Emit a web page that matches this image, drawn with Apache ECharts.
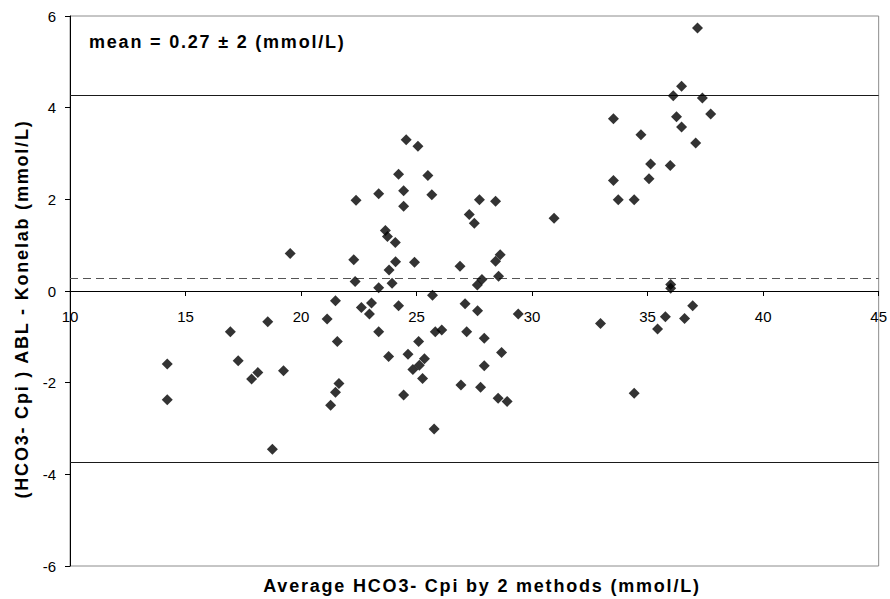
<!DOCTYPE html>
<html>
<head>
<meta charset="utf-8">
<title>Bland-Altman HCO3- Cpi</title>
<script src="https://cdn.jsdelivr.net/npm/echarts@6/dist/echarts.min.js"></script>
<style>
  html, body { margin: 0; padding: 0; background: #fff; }
  #chart { width: 890px; height: 599px; }
  /* bold captions are tracked out a little */
  #chart text[style*="bold"] { letter-spacing: 1.8px; }
</style>
</head>
<body>
<div id="chart"></div>
<script>
// Average of the two methods (mmol/L)
const avgValues = [
  14.21, 14.21, 16.94, 17.28, 17.86, 18.13, 18.56, 19.24, 18.76, 19.53,
  21.13, 21.49, 21.57, 21.64, 21.49, 21.28, 22.34, 22.28, 22.38, 22.61,
  22.96, 23.05, 23.36, 23.36, 23.36, 23.65, 23.74, 24.08, 24.09, 23.81,
  23.94, 24.22, 23.79, 24.22, 24.44, 24.44, 24.55, 25.06, 24.91, 25.49,
  25.66, 25.69, 24.63, 25.09, 24.84, 25.12, 25.34, 25.26, 24.44, 25.76,
  25.81, 26.09, 26.88, 27.10, 27.64, 29.40, 27.17, 27.93, 28.68, 27.93,
  26.92, 27.77, 28.53, 28.92, 27.72, 28.42, 27.28, 27.50, 28.62, 28.42,
  28.55, 27.83, 27.63, 30.95, 33.52, 34.71, 35.13, 35.98, 35.06, 33.52,
  33.73, 34.42, 36.00, 36.00, 32.96, 34.42, 35.43, 35.77, 36.60, 36.95,
  37.16, 36.47, 36.11, 37.37, 37.73, 36.25, 36.47, 37.08
];

// Difference ABL - Konelab (mmol/L)
const diffValues = [
  -1.59, -2.37, -0.89, -1.52, -1.92, -1.78, -0.67, -1.74, -3.45, 0.82,
  -0.61, -0.21, -1.10, -2.02, -2.21, -2.49, 0.21, 0.68, 1.98, -0.36,
  -0.50, -0.26, -0.89, 0.07, 2.12, 1.32, 1.19, 1.06, 0.64, 0.46,
  0.17, -0.32, -1.43, 2.55, 2.19, 1.85, 3.30, 3.16, 0.63, 2.52,
  2.10, -0.09, -1.38, -1.10, -1.71, -1.62, -1.48, -1.91, -2.27, -3.01,
  -0.89, -0.85, 0.54, -0.28, -0.43, -0.50, -0.89, -1.03, -1.34, -1.63,
  -2.05, -2.10, -2.34, -2.41, 1.99, 1.96, 1.67, 1.48, 0.79, 0.65,
  0.32, 0.25, 0.13, 1.59, 3.76, 3.41, 2.77, 2.74, 2.45, 2.41,
  1.99, 1.99, 0.14, 0.06, -0.71, -2.23, -0.83, -0.56, -0.60, -0.32,
  5.74, 4.47, 4.26, 4.21, 3.86, 3.80, 3.58, 3.23
];

// Mean difference and the mean ± 2 SD limits
const meanDiff = 0.27;
const upperLimit = 4.27;
const lowerLimit = -3.73;

// Axis ranges and tick steps
const xRange = [10, 45];
const xStep = 5;
const yRange = [-6, 6];
const yStep = 2;

const meanText = 'mean = 0.27 \u00b1 2 (mmol/L)';
const xTitle = 'Average HCO3- Cpi by 2 methods (mmol/L)';
const yTitle = '(HCO3- Cpi ) ABL - Konelab (mmol/L)';

const points = avgValues.map((a, i) => [a, diffValues[i]]);
const FONT = 'Liberation Sans, Arial, sans-serif';
const TITLE_FONT = 'bold 18px Liberation Sans, Arial, sans-serif';

const GRID = { left: 70, right: 8, top: 16, bottom: 33 };
const plotHeight = 599 - GRID.top - GRID.bottom;

const chart = echarts.init(document.getElementById('chart'), null, { renderer: 'svg' });

chart.setOption({
  animation: false,
  backgroundColor: '#ffffff',
  grid: Object.assign({
    show: true,
    borderColor: '#8c8c8c',
    borderWidth: 1,
    backgroundColor: 'transparent'
  }, GRID),
  xAxis: {
    type: 'value',
    min: xRange[0], max: xRange[1], interval: xStep,
    position: 'bottom',
    // the horizontal axis runs along the zero line, half way up the plot
    offset: -plotHeight / 2,
    axisLine: { show: true, onZero: false, lineStyle: { color: '#000', width: 1 } },
    axisTick: { show: true, length: 5, inside: false, lineStyle: { color: '#000' } },
    axisLabel: { margin: 18, fontSize: 15, color: '#000', fontFamily: FONT },
    splitLine: { show: false }
  },
  yAxis: {
    type: 'value',
    min: yRange[0], max: yRange[1], interval: yStep,
    axisLine: { show: true, onZero: false, lineStyle: { color: '#000', width: 1 } },
    axisTick: { show: true, length: 5, inside: false, lineStyle: { color: '#000' } },
    axisLabel: { margin: 14, fontSize: 15, color: '#000', fontFamily: FONT },
    splitLine: { show: false }
  },
  series: [
    {
      type: 'scatter',
      data: points,
      symbol: 'diamond',
      symbolSize: [11, 11],
      itemStyle: { color: '#000' },
      z: 5,
      markLine: {
        silent: true,
        symbol: ['none', 'none'],
        label: { show: false },
        animation: false,
        data: [
          { yAxis: upperLimit, lineStyle: { color: '#1a1a1a', width: 1, type: 'solid' } },
          { yAxis: lowerLimit, lineStyle: { color: '#1a1a1a', width: 1, type: 'solid' } },
          { yAxis: meanDiff, lineStyle: { color: '#555', width: 1, type: [8, 5] } }
        ]
      }
    }
  ],
  graphic: [
    {
      type: 'text', x: 89, y: 41.5, silent: true,
      style: {
        text: meanText, fill: '#000', font: TITLE_FONT,
        textAlign: 'left', textVerticalAlign: 'middle'
      }
    },
    {
      type: 'text', x: 482, y: 585.5, silent: true,
      style: {
        text: xTitle, fill: '#000', font: TITLE_FONT,
        textAlign: 'center', textVerticalAlign: 'middle'
      }
    },
    {
      type: 'text', x: 22, y: 309, rotation: Math.PI / 2, silent: true,
      style: {
        text: yTitle, fill: '#000', font: TITLE_FONT,
        textAlign: 'center', textVerticalAlign: 'middle'
      }
    }
  ]
});
</script>
</body>
</html>
